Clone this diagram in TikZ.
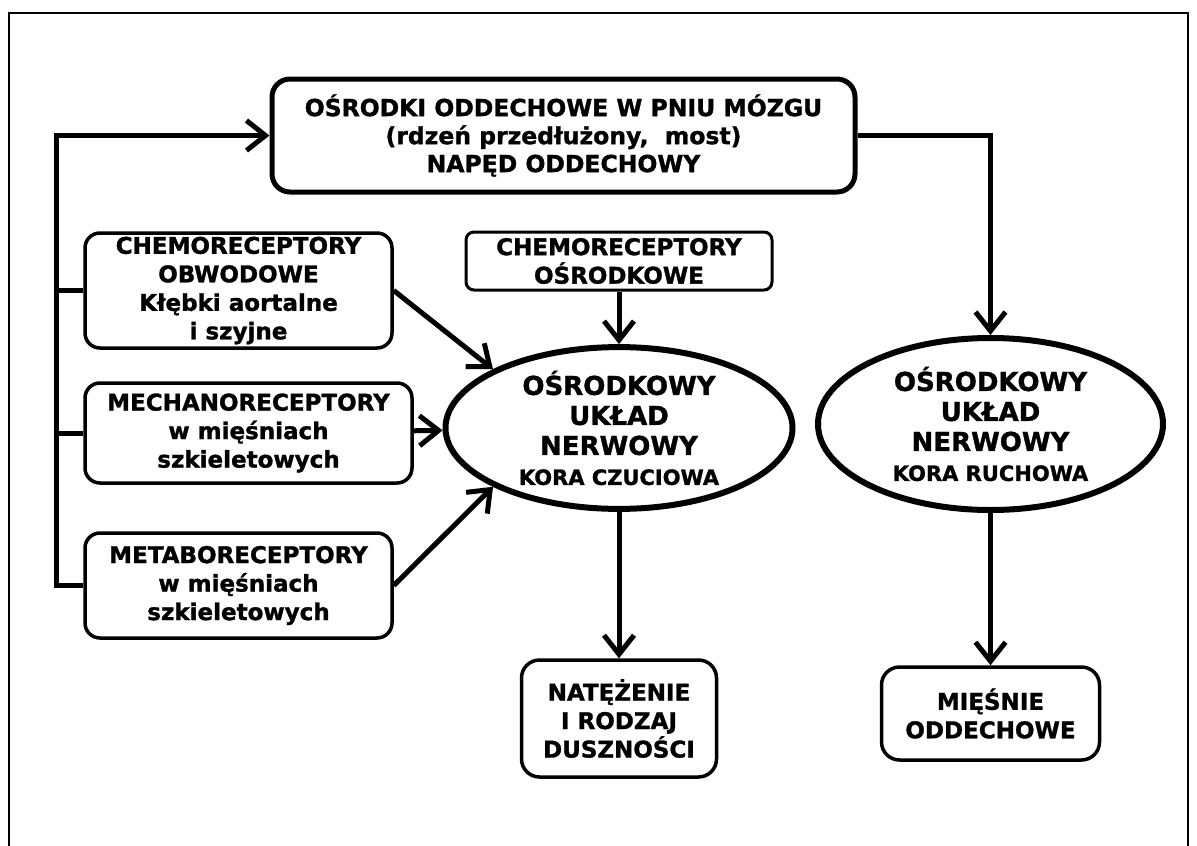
\documentclass[tikz,border=0pt]{standalone}
\usepackage{fontspec}
\setmainfont{DejaVu Sans}[BoldFeatures={FakeBold=1.3}]
\usetikzlibrary{arrows.meta,shapes.geometric}
\begin{document}
\begin{tikzpicture}[x=1pt,y=-1pt,
  conn/.style={line width=5pt},
  arr/.style={conn,-{Straight Barb[length=19pt,width=30pt]}},
  txt/.style={font=\fontsize{23}{28.5}\selectfont\bfseries, align=center, inner sep=0pt},
  rbox/.style={txt, draw, line width=3.5pt, rounded corners=15pt},
  ellbox/.style={draw, ellipse, line width=6pt, inner sep=0pt, align=center,
    font=\fontsize{26}{30}\selectfont\bfseries}
]
\useasboundingbox (0,0) rectangle (1197,846);
\begin{scope}
\clip (0,0) rectangle (1197,846);
\draw[line width=2pt] (9,13) rectangle (1188,870);
\end{scope}

\node[rbox, line width=5pt, rounded corners=18pt, minimum width=583pt, minimum height=113pt,
  font=\fontsize{23.5}{28}\selectfont\bfseries] (top) at (563.5,135.5)
  {OŚRODKI ODDECHOWE W PNIU MÓZGU\\(rdzeń przedłużony,~ most)\\NAPĘD ODDECHOWY};

\node[rbox, minimum width=307pt, minimum height=115pt] (box1) at (238.5,290.5)
  {CHEMORECEPTORY\\OBWODOWE\\Kłębki aortalne\\i szyjne};
\node[rbox, minimum width=327pt, minimum height=100pt] (box2) at (248.5,433)
  {MECHANORECEPTORY\\w mięśniach\\szkieletowych};
\node[rbox, minimum width=307pt, minimum height=105pt] (box3) at (238.5,585.5)
  {METABORECEPTORY\\w mięśniach\\szkieletowych};

\node[rbox, line width=3pt, rounded corners=8pt, minimum width=306pt, minimum height=58pt] (cbox) at (619,261)
  {CHEMORECEPTORY\\OŚRODKOWE};

\node[ellbox, minimum width=347pt, minimum height=160pt] (ell1) at (619,428)
  {OŚRODKOWY\\UKŁAD\\NERWOWY\\{\fontsize{21}{25}\selectfont KORA CZUCIOWA}};
\node[ellbox, minimum width=345pt, minimum height=172pt] (ell2) at (990.5,424)
  {OŚRODKOWY\\UKŁAD\\NERWOWY\\{\fontsize{21}{25}\selectfont KORA RUCHOWA}};

\node[rbox, minimum width=195pt, minimum height=117pt, rounded corners=18pt] (nbox) at (619,718.5)
  {NATĘŻENIE\\I RODZAJ\\DUSZNOŚCI};
\node[rbox, minimum width=218pt, minimum height=93pt, rounded corners=18pt] (mbox) at (990.5,713.5)
  {MIĘŚNIE\\ODDECHOWE};

\coordinate (L) at (56,0);
\draw[conn] (box1.west) -- (box1.west -| L);
\draw[conn] (box2.west) -- (box2.west -| L);
\draw[arr] (box3.west) -- (box3.west -| L) |- (top.west);

\draw[arr] (top.east) -| (ell2.north);
\draw[arr] (box1.east) -- (ell1.155);
\draw[arr] (box2) -- (ell1);
\draw[arr] (box3.east) -- (ell1.205);
\draw[arr] (cbox.south) -- (ell1.north);
\draw[arr] (ell1.south) -- (nbox.north);
\draw[arr] (ell2.south) -- (mbox.north);
\end{tikzpicture}
\end{document}
